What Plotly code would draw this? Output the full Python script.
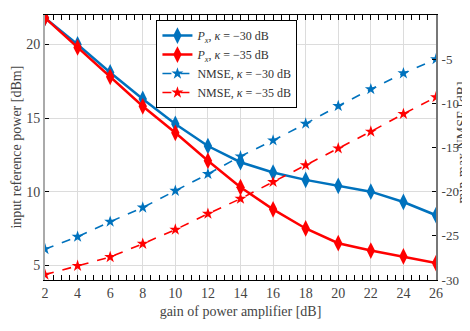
import plotly.graph_objects as go

gain = [2, 4, 6, 8, 10, 12, 14, 16, 18, 20, 22, 24, 26]
p_30 = [21.8, 20.0, 18.1, 16.3, 14.6, 13.1, 12.0, 11.3, 10.8, 10.4, 10.0, 9.3, 8.4]
p_35 = [21.8, 19.8, 17.8, 15.8, 14.0, 12.1, 10.3, 8.8, 7.5, 6.5, 6.0, 5.6, 5.15]
nmse_30 = [-26.5, -25.1, -23.4, -21.8, -19.9, -18.0, -16.0, -14.2, -12.3, -10.3, -8.4, -6.6, -5.0]
nmse_35 = [-29.4, -28.4, -27.4, -25.9, -24.3, -22.5, -20.8, -18.9, -17.0, -15.1, -13.2, -11.2, -9.3]

left_ticks = [5, 10, 15, 20]
right_ticks = [0, -5, -10, -15, -20, -25, -30]
right_ticktext = ["0", "-5", "-10", "-15", "-20", "-25", "-30"]
x_ticks = gain

BLUE = "rgb(0,114,189)"
RED = "rgb(255,0,0)"
FONT = "Liberation Serif"
TXT = "#444"

fig = go.Figure()
fig.add_trace(go.Scatter(x=gain, y=p_30, mode="lines+markers",
                         name="<i>P</i><sub><i>x</i></sub>, <i>κ</i> = −30 dB",
                         line=dict(color=BLUE, width=2.5),
                         marker=dict(symbol="diamond-tall", size=12, color=BLUE)))
fig.add_trace(go.Scatter(x=gain, y=p_35, mode="lines+markers",
                         name="<i>P</i><sub><i>x</i></sub>, <i>κ</i> = −35 dB",
                         line=dict(color=RED, width=2.5),
                         marker=dict(symbol="diamond-tall", size=12, color=RED)))
fig.add_trace(go.Scatter(x=gain, y=nmse_30, mode="lines+markers", yaxis="y2",
                         name="NMSE, <i>κ</i> = −30 dB",
                         line=dict(color=BLUE, width=1.6, dash="dash"),
                         marker=dict(symbol="star", size=9, color=BLUE)))
fig.add_trace(go.Scatter(x=gain, y=nmse_35, mode="lines+markers", yaxis="y2",
                         name="NMSE, <i>κ</i> = −35 dB",
                         line=dict(color=RED, width=1.6, dash="dash"),
                         marker=dict(symbol="star", size=9, color=RED)))

fig.update_layout(
    width=462, height=323,
    margin=dict(l=37, r=34, t=7, b=51),
    paper_bgcolor="white", plot_bgcolor="white",
    font=dict(family=FONT, size=14, color=TXT),
    showlegend=True,
    legend=dict(x=0.285, y=0.981, xanchor="left", yanchor="top",
                bgcolor="white", bordercolor="black", borderwidth=1,
                font=dict(family=FONT, size=12, color="#333"),
                tracegroupgap=0, itemwidth=30),
    xaxis=dict(range=[2, 26], tickvals=x_ticks, ticks="inside", ticklen=5,
               showline=True, linecolor="black", linewidth=1.2, mirror="allticks",
               showgrid=True, gridcolor="#dcdcdc", zeroline=False,
               minor=dict(dtick=0.5, ticks="inside", ticklen=3, tickcolor="black", showgrid=False),
               tickcolor="black", tickfont=dict(size=14, color=TXT),
               title=dict(text="gain of power amplifier [dB]", font=dict(size=14, color=TXT), standoff=6)),
    yaxis=dict(range=[4, 22], tickvals=left_ticks, ticks="inside", ticklen=4, tickcolor="black",
               showline=True, linecolor="#aaaaaa", linewidth=2,
               showgrid=True, gridcolor="#dcdcdc", zeroline=False,
               tickfont=dict(size=14, color=TXT)),
    yaxis2=dict(range=[-30, 0], overlaying="y", side="right", tickvals=right_ticks,
                ticktext=right_ticktext, ticks="inside", ticklen=4, tickcolor="black",
                showline=True, linecolor="#777777", linewidth=2,
                showgrid=False, zeroline=False, ticklabelstandoff=1,
                tickfont=dict(size=13, color=TXT)),
    annotations=[
        dict(text="input reference power [dBm]", xref="paper", yref="paper",
             x=-0.074, y=0.5, xanchor="center", yanchor="middle", textangle=-90,
             showarrow=False, font=dict(family=FONT, size=14, color=TXT)),
        dict(text="min-max NMSE [dB]", xref="paper", yref="paper",
             x=1.067, y=0.52, xanchor="center", yanchor="middle", textangle=-90,
             showarrow=False, font=dict(family=FONT, size=14, color=TXT)),
    ],
)

fig.write_html("out.html")
